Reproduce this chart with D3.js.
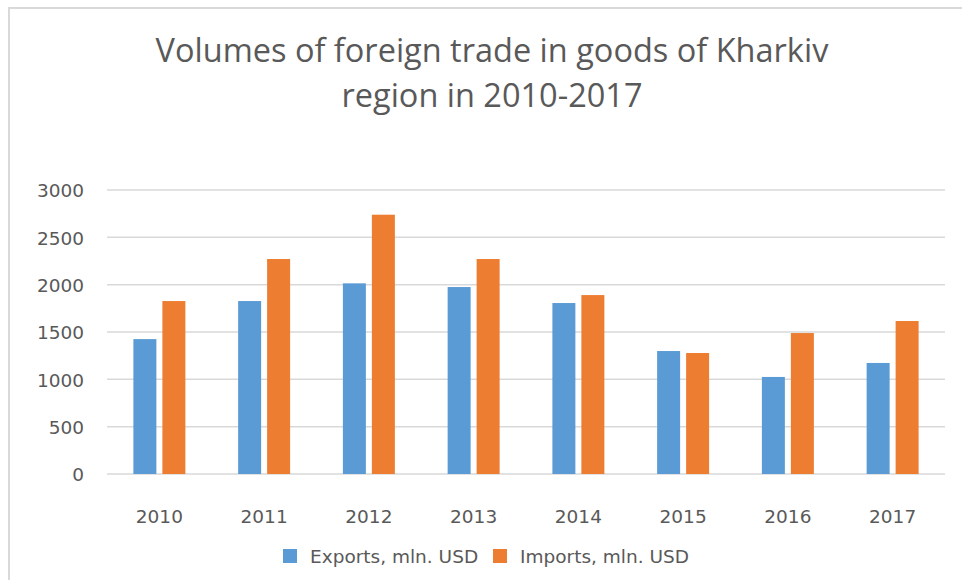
<!DOCTYPE html>
<html>
<head>
<meta charset="utf-8">
<script src="https://cdn.jsdelivr.net/npm/d3@7"></script>
<style>
  html, body { margin: 0; padding: 0; background: #fff; }
  svg { display: block; }
</style>
</head>
<body>
<div id="chart"></div>
<script>
  var years = ['2010', '2011', '2012', '2013', '2014', '2015', '2016', '2017'];
  var exportsMln = [1425, 1827, 2014, 1975, 1806, 1299, 1025, 1173];
  var importsMln = [1827, 2271, 2739, 2271, 1890, 1278, 1489, 1616];
  var seriesNames = ['Exports, mln. USD', 'Imports, mln. USD'];
  var seriesColors = ['#5b9bd5', '#ed7d31'];
  var yTicks = [0, 500, 1000, 1500, 2000, 2500, 3000];
  var titleLines = ['Volumes of foreign trade in goods of Kharkiv', 'region in 2010-2017'];

  var width = 962,
      height = 580,
      plot = { left: 107, right: 945, top: 190, bottom: 474 },
      textColor = '#595959',
      gridColor = '#d9d9d9',
      labelFont = '"DejaVu Sans", sans-serif';

  var svg = d3.select('#chart').append('svg')
    .attr('width', width)
    .attr('height', height);

  svg.append('rect')
    .attr('width', width)
    .attr('height', height)
    .attr('fill', '#fff');

  // chart frame (only left and top edges are visible)
  svg.append('path')
    .attr('d', 'M9,' + height + 'V8H' + width)
    .attr('fill', 'none')
    .attr('stroke', gridColor)
    .attr('stroke-width', 2);

  // title
  svg.append('g')
    .selectAll('text')
    .data(titleLines)
    .enter().append('text')
      .attr('x', 492)
      .attr('y', function(d, i) { return 62 + i * 45; })
      .attr('text-anchor', 'middle')
      .style('font-family', '"Open Sans", sans-serif')
      .style('font-size', '32.5px')
      .style('fill', textColor)
      .text(function(d) { return d; });

  var x0 = d3.scaleBand()
    .domain(years)
    .range([plot.left, plot.right]);

  var x1 = d3.scaleBand()
    .domain(seriesNames)
    .range([0, x0.bandwidth()])
    .paddingInner(0.207)
    .paddingOuter(0.91);

  var y = d3.scaleLinear()
    .domain([0, 3000])
    .range([plot.bottom, plot.top]);

  // gridlines
  svg.append('g')
    .selectAll('line')
    .data(yTicks)
    .enter().append('line')
      .attr('x1', plot.left)
      .attr('x2', plot.right)
      .attr('y1', function(d) { return y(d); })
      .attr('y2', function(d) { return y(d); })
      .attr('stroke', gridColor)
      .attr('stroke-width', 1.5);

  // y axis labels
  var yAxis = d3.axisLeft(y)
    .tickValues(yTicks)
    .tickFormat(d3.format('d'))
    .tickSize(0)
    .tickPadding(0);
  svg.append('g')
    .attr('transform', 'translate(84,0)')
    .call(yAxis)
    .call(function(g) { g.select('.domain').remove(); })
    .selectAll('text')
      .attr('dy', '0.36em')
      .style('font-family', labelFont)
      .style('font-size', '18.5px')
      .style('fill', textColor);

  // x axis labels
  var xAxis = d3.axisBottom(x0).tickSize(0).tickPadding(0);
  svg.append('g')
    .attr('transform', 'translate(0,523)')
    .call(xAxis)
    .call(function(g) { g.select('.domain').remove(); })
    .selectAll('text')
      .attr('dy', 0)
      .style('font-family', labelFont)
      .style('font-size', '18.5px')
      .style('fill', textColor);

  var rows = years.map(function(year, i) {
    return { year: year, values: [exportsMln[i], importsMln[i]] };
  });

  var groups = svg.append('g')
    .selectAll('g')
    .data(rows)
    .enter().append('g')
      .attr('transform', function(d) { return 'translate(' + x0(d.year) + ',0)'; });

  groups.selectAll('rect')
    .data(function(d) {
      return d.values.map(function(v, i) { return { key: seriesNames[i], value: v, idx: i }; });
    })
    .enter().append('rect')
      .attr('x', function(d) { return x1(d.key); })
      .attr('y', function(d) { return y(d.value); })
      .attr('width', x1.bandwidth())
      .attr('height', function(d) { return y(0) - y(d.value); })
      .attr('fill', function(d) { return seriesColors[d.idx]; });

  // legend
  var legendX = [283, 493];
  var legend = svg.append('g')
    .selectAll('g')
    .data(seriesNames)
    .enter().append('g')
      .attr('transform', function(d, i) { return 'translate(' + legendX[i] + ',549)'; });

  legend.append('rect')
    .attr('width', 14)
    .attr('height', 14)
    .attr('fill', function(d, i) { return seriesColors[i]; });

  legend.append('text')
    .attr('x', 27)
    .attr('y', 14)
    .style('font-family', labelFont)
    .style('font-size', '18.5px')
    .style('fill', textColor)
    .text(function(d) { return d; });
</script>
</body>
</html>
